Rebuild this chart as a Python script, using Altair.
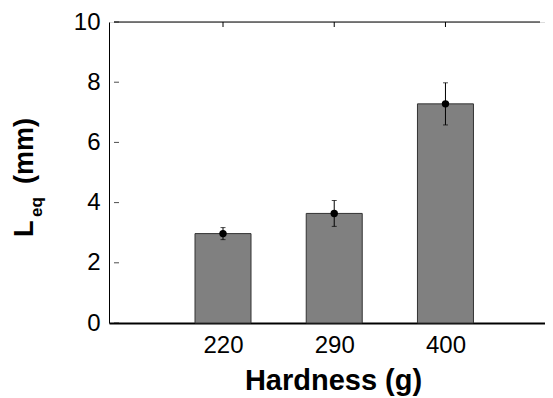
import altair as alt
import pandas as pd

# Data
hardness = ["220", "290", "400"]
positions = [1, 2, 3]
leq_mean = [2.97, 3.64, 7.28]
leq_err = [0.20, 0.43, 0.70]
y_ticks = [0, 2, 4, 6, 8, 10]

df = pd.DataFrame({
    "pos": positions,
    "hardness": hardness,
    "mean": leq_mean,
    "err": leq_err,
})
df["low"] = df["mean"] - df["err"]
df["high"] = df["mean"] + df["err"]

FONT = "Liberation Sans"
W, H = 436, 301
x_dom = [0.02, 3.85]
y_dom = [0, 10]
xscale = alt.Scale(domain=x_dom, nice=False, zero=False)
yscale = alt.Scale(domain=y_dom, nice=False)

label_expr = "{" + ",".join(f"'{p}':'{h}'" for p, h in zip(positions, hardness)) + "}[''+datum.value]"

x_axis = alt.Axis(
    values=positions,
    labelExpr=label_expr,
    title="Hardness (g)",
    titleFont=FONT, titleFontSize=29, titleFontWeight="bold", titleColor="black",
    titleX=224, titleY=66, titleBaseline="alphabetic", titleAnchor="middle",
    labelFont=FONT, labelFontSize=24, labelColor="black", labelPadding=10,
    ticks=False, grid=False, domainColor="black", domainWidth=2,
)
y_axis = alt.Axis(
    values=y_ticks, title=None,
    labelFont=FONT, labelFontSize=24, labelColor="black", labelPadding=9,
    ticks=False, grid=False, domainColor="black", domainWidth=1,
)


def X(f):
    return alt.X(f, type="quantitative", scale=xscale, axis=x_axis, title="Hardness (g)")


def Y(f):
    return alt.Y(f, type="quantitative", scale=yscale, axis=y_axis, title=None)


bars = alt.Chart(df).mark_bar(
    size=56, color="#808080", stroke="#333333", strokeWidth=1
).encode(x=X("pos"), y=Y("mean"))

rule = alt.Chart(df).mark_rule(color="black", strokeWidth=1).encode(
    x=X("pos"), y=Y("low"), y2="high:Q"
)
cap_lo = alt.Chart(df).mark_tick(color="black", orient="horizontal", size=5, thickness=1).encode(
    x=X("pos"), y=Y("low")
)
cap_hi = alt.Chart(df).mark_tick(color="black", orient="horizontal", size=5, thickness=1).encode(
    x=X("pos"), y=Y("high")
)
pts = alt.Chart(df).mark_point(filled=True, color="black", size=55, opacity=1).encode(
    x=X("pos"), y=Y("mean")
)

# top frame line spanning the x domain at y = top of y domain
frame_df = pd.DataFrame({"a": [x_dom[0]], "b": [x_dom[1]], "v": [y_dom[1]]})
top_line = alt.Chart(frame_df).mark_rule(color="black", strokeWidth=1.2).encode(
    x=X("a"), x2="b:Q", y=Y("v")
)

# inward ticks on left axis
ytick_df = pd.DataFrame({"yt": y_ticks, "x0": [x_dom[0]] * len(y_ticks)})
ytk = alt.Chart(ytick_df).mark_tick(
    color="black", orient="horizontal", size=5, thickness=1, xOffset=2.5
).encode(y=Y("yt"), x=X("x0"))

# inward ticks on top frame
xtick_df = pd.DataFrame({"xt": positions, "y1": [y_dom[1]] * len(positions)})
xtk = alt.Chart(xtick_df).mark_rule(color="black", strokeWidth=1).encode(
    x=X("xt"), y=alt.value(0), y2=alt.value(5)
)

# Y title with subscript as text marks (rotated)
t_L = alt.Chart(pd.DataFrame({"t": ["L"]})).mark_text(
    angle=270, align="left", baseline="alphabetic", font=FONT, fontSize=27,
    fontWeight="bold", color="black"
).encode(text="t:N", x=alt.value(-76), y=alt.value(215))
t_eq = alt.Chart(pd.DataFrame({"t": ["eq"]})).mark_text(
    angle=270, align="left", baseline="alphabetic", font=FONT, fontSize=17,
    fontWeight="bold", color="black"
).encode(text="t:N", x=alt.value(-67), y=alt.value(195))
t_mm = alt.Chart(pd.DataFrame({"t": ["(mm)"]})).mark_text(
    angle=270, align="left", baseline="alphabetic", font=FONT, fontSize=27,
    fontWeight="bold", color="black"
).encode(text="t:N", x=alt.value(-76), y=alt.value(162))

chart = alt.layer(
    bars, rule, cap_lo, cap_hi, pts, top_line, ytk, xtk, t_L, t_eq, t_mm
).properties(
    width=W, height=H,
    autosize=alt.AutoSizeParams(type="none"),
    padding={"left": 101, "top": 14, "right": 0, "bottom": 75},
).configure_view(stroke=None).configure(background="white")

chart.save("out.html", embed_options={"renderer": "svg", "actions": False})
